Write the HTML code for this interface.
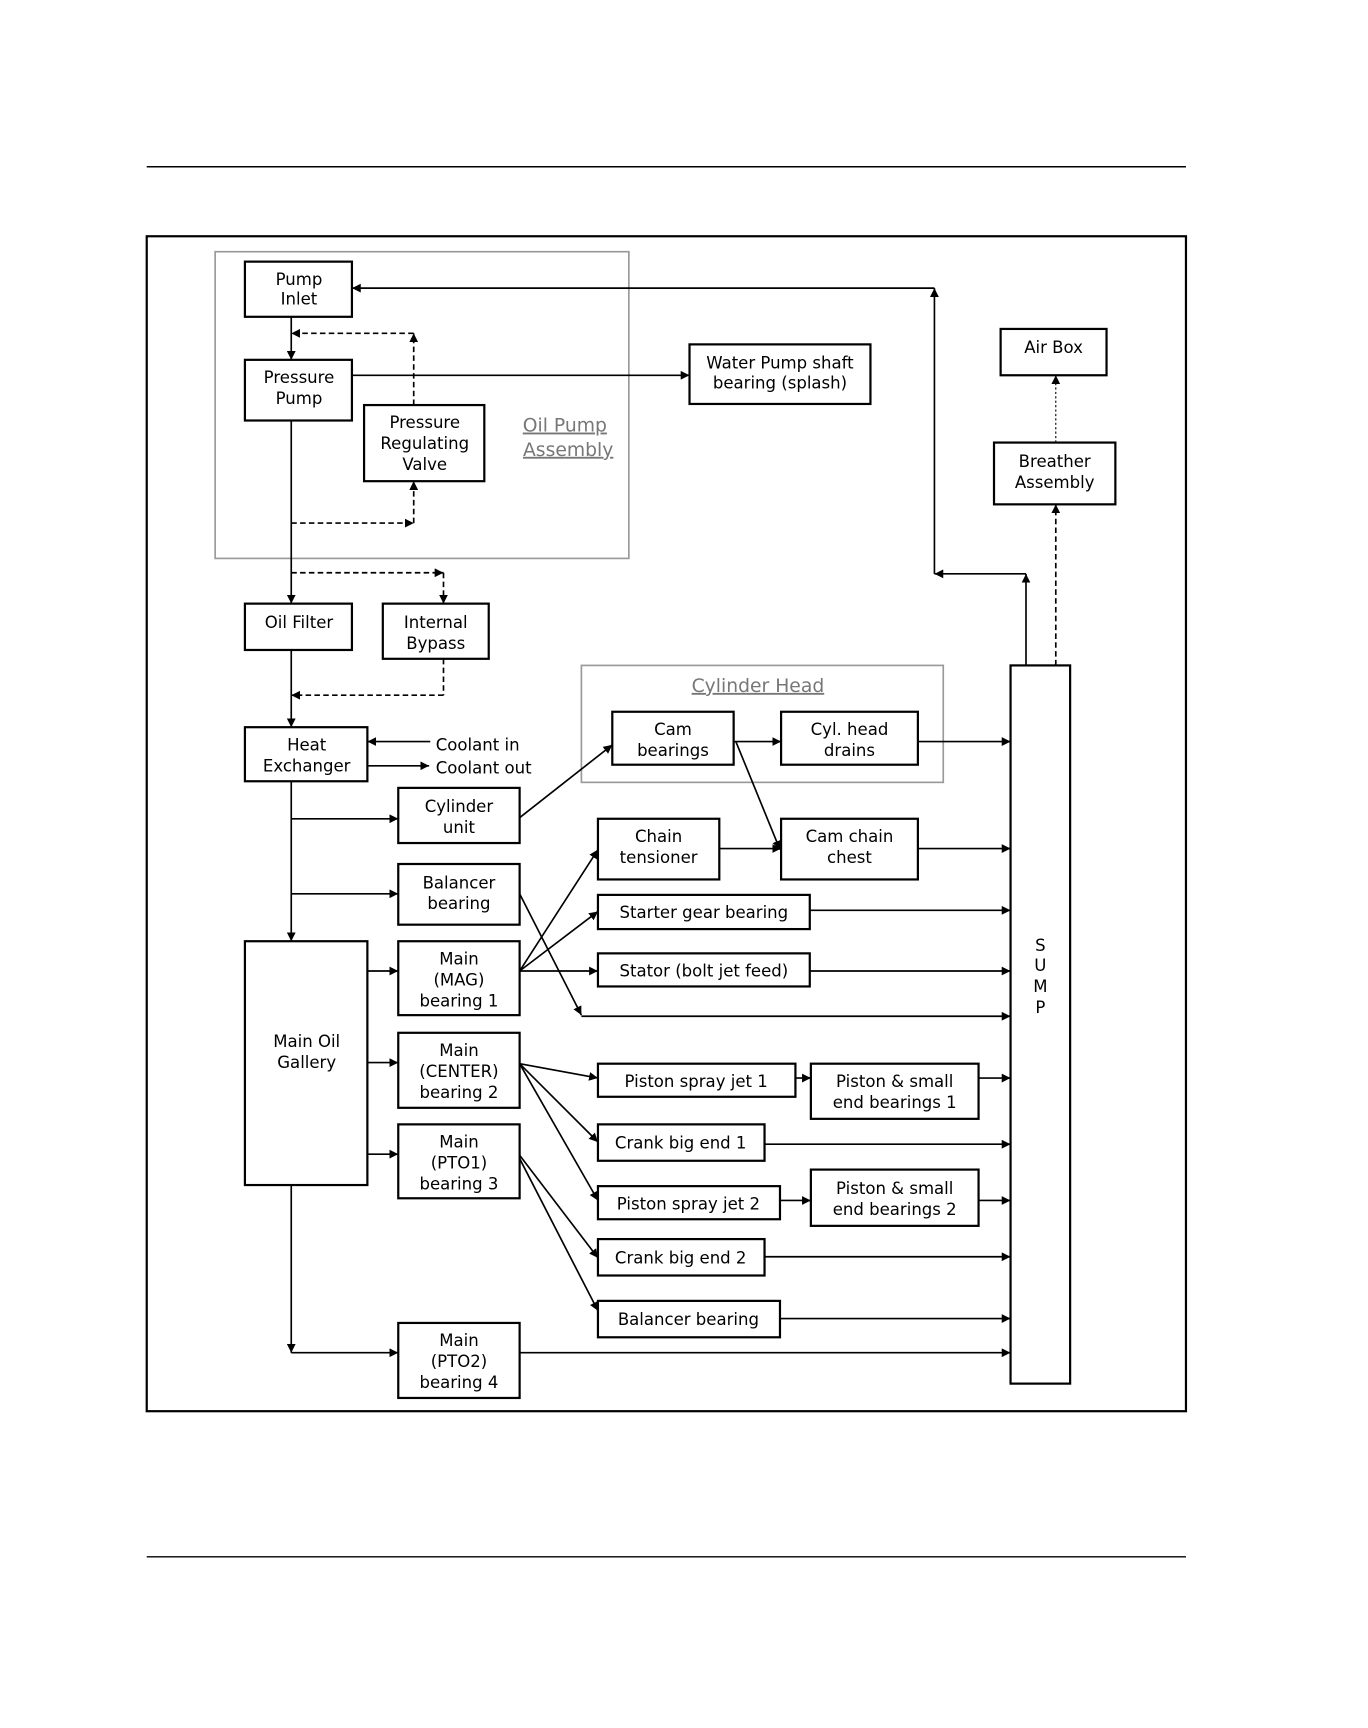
<!DOCTYPE html>
<html><head><meta charset="utf-8"><style>
html,body{margin:0;padding:0;background:#fff}
svg{display:block}
text{font-family:"DejaVu Sans","Liberation Sans",sans-serif;font-size:15px;fill:#000;text-anchor:middle}
.g{fill:#777}
</style></head><body>
<svg width="1368" height="1728" viewBox="0 0 1240 1566" xmlns="http://www.w3.org/2000/svg">
<defs>
<marker id="a" viewBox="0 0 10 10" refX="10" refY="5" markerWidth="8" markerHeight="8" markerUnits="userSpaceOnUse" orient="auto"><path d="M0,0L10,5L0,10z" fill="#000"/></marker>
</defs>
<g stroke="#000" stroke-width="1.3">
<line x1="133" y1="151" x2="1075" y2="151"/>
<line x1="133" y1="1411" x2="1075" y2="1411"/>
</g>
<rect x="133" y="214" width="942" height="1065" fill="none" stroke="#000" stroke-width="2"/>
<rect x="195" y="228" width="375" height="278" fill="none" stroke="#999" stroke-width="1.5"/>
<rect x="527" y="603" width="328" height="106" fill="none" stroke="#999" stroke-width="1.5"/>
<g fill="#fff" stroke="#000" stroke-width="2">
<rect x="222" y="237" width="97" height="50"/>
<rect x="222" y="326" width="97" height="55"/>
<rect x="330" y="367" width="109" height="69"/>
<rect x="625" y="312" width="164" height="54"/>
<rect x="907" y="298" width="96" height="42"/>
<rect x="901" y="401" width="110" height="56"/>
<rect x="222" y="547" width="97" height="42"/>
<rect x="347" y="547" width="96" height="50"/>
<rect x="555" y="645" width="110" height="48"/>
<rect x="708" y="645" width="124" height="48"/>
<rect x="222" y="659" width="111" height="49"/>
<rect x="361" y="714" width="110" height="50"/>
<rect x="542" y="742" width="110" height="55"/>
<rect x="708" y="742" width="124" height="55"/>
<rect x="361" y="783" width="110" height="55"/>
<rect x="542" y="811" width="192" height="31"/>
<rect x="361" y="853" width="110" height="67"/>
<rect x="542" y="864" width="192" height="30"/>
<rect x="222" y="853" width="111" height="221"/>
<rect x="916" y="603" width="54" height="651"/>
<rect x="361" y="936" width="110" height="68"/>
<rect x="542" y="964" width="179" height="30"/>
<rect x="735" y="964" width="152" height="50"/>
<rect x="542" y="1019" width="151" height="33"/>
<rect x="361" y="1019" width="110" height="67"/>
<rect x="542" y="1075" width="165" height="30"/>
<rect x="735" y="1060" width="152" height="51"/>
<rect x="542" y="1123" width="151" height="33"/>
<rect x="542" y="1179" width="165" height="33"/>
<rect x="361" y="1199" width="110" height="68"/>
</g>
<g stroke="#000" stroke-width="1.5" fill="none" marker-end="url(#a)">
<path d="M930,603V520"/>
<path d="M930,520H847"/>
<path d="M847,520V261"/>
<path d="M847,261H319"/>
<path d="M264,287V326"/>
<path d="M319,340H625"/>
<path d="M264,381V547"/>
<path d="M264,589V659"/>
<path d="M390,672H333"/>
<path d="M333,694H389"/>
<path d="M264,708V853"/>
<path d="M264,742H361"/>
<path d="M264,810H361"/>
<path d="M333,880H361"/>
<path d="M333,963H361"/>
<path d="M333,1046H361"/>
<path d="M264,1074V1226"/>
<path d="M264,1226H361"/>
<path d="M471,1226H916"/>
<path d="M471,741L555,675"/>
<path d="M665,672H708"/>
<path d="M667,672L707,770"/>
<path d="M832,672H916"/>
<path d="M652,769H708"/>
<path d="M832,769H916"/>
<path d="M734,825H916"/>
<path d="M734,880H916"/>
<path d="M471,880L542,770"/>
<path d="M471,880L542,826"/>
<path d="M471,880H542"/>
<path d="M471,810L527,920"/>
<path d="M527,921H916"/>
<path d="M471,964L542,977"/>
<path d="M471,964L542,1035"/>
<path d="M471,964L542,1088"/>
<path d="M721,977H735"/>
<path d="M887,977H916"/>
<path d="M693,1037H916"/>
<path d="M707,1088H735"/>
<path d="M887,1088H916"/>
<path d="M471,1047L542,1140"/>
<path d="M471,1050L542,1188"/>
<path d="M693,1139H916"/>
<path d="M707,1195H916"/>
</g>
<g stroke="#000" stroke-width="1.5" fill="none" stroke-dasharray="5,3">
<path d="M375,367V302" marker-end="url(#a)"/>
<path d="M375,302H264" marker-end="url(#a)"/>
<path d="M264,474H375" marker-end="url(#a)"/>
<path d="M375,474V436" marker-end="url(#a)"/>
<path d="M264,519H402" marker-end="url(#a)"/>
<path d="M402,519V547" marker-end="url(#a)"/>
<path d="M402,597V630" />
<path d="M402,630H264" marker-end="url(#a)"/>
<path d="M957,603V457" marker-end="url(#a)"/>
<path d="M957,401V340" stroke-dasharray="2,2" stroke-width="1" marker-end="url(#a)"/>
</g>
<text x="271" y="258">Pump</text><text x="271" y="276">Inlet</text>
<text x="271" y="347">Pressure</text><text x="271" y="366">Pump</text>
<text x="385" y="388">Pressure</text><text x="385" y="407">Regulating</text><text x="385" y="426">Valve</text>
<text x="707" y="334">Water Pump shaft</text><text x="707" y="352">bearing (splash)</text>
<text class="g" x="512" y="391" style="font-size:17px;text-decoration:underline">Oil Pump</text>
<text class="g" x="515" y="413" style="font-size:17px;text-decoration:underline">Assembly</text>
<text x="955" y="320">Air Box</text>
<text x="956" y="423">Breather</text><text x="956" y="442">Assembly</text>
<text x="271" y="569">Oil Filter</text>
<text x="395" y="569">Internal</text><text x="395" y="588">Bypass</text>
<text class="g" x="687" y="627" style="font-size:17px;text-decoration:underline">Cylinder Head</text>
<text x="610" y="666">Cam</text><text x="610" y="685">bearings</text>
<text x="770" y="666">Cyl. head</text><text x="770" y="685">drains</text>
<text x="278" y="680">Heat</text><text x="278" y="699">Exchanger</text>
<text x="395" y="680" style="text-anchor:start">Coolant in</text>
<text x="395" y="701" style="text-anchor:start">Coolant out</text>
<text x="416" y="736">Cylinder</text><text x="416" y="755">unit</text>
<text x="597" y="763">Chain</text><text x="597" y="782">tensioner</text>
<text x="770" y="763">Cam chain</text><text x="770" y="782">chest</text>
<text x="416" y="805">Balancer</text><text x="416" y="824">bearing</text>
<text x="638" y="832">Starter gear bearing</text>
<text x="416" y="874">Main</text><text x="416" y="893">(MAG)</text><text x="416" y="912">bearing 1</text>
<text x="638" y="885">Stator (bolt jet feed)</text>
<text x="278" y="949">Main Oil</text><text x="278" y="968">Gallery</text>
<text x="943" y="862">S</text><text x="943" y="880">U</text><text x="943" y="899">M</text><text x="943" y="918">P</text>
<text x="416" y="957">Main</text><text x="416" y="976">(CENTER)</text><text x="416" y="995">bearing 2</text>
<text x="631" y="985">Piston spray jet 1</text>
<text x="811" y="985">Piston &amp; small</text><text x="811" y="1004">end bearings 1</text>
<text x="617" y="1041">Crank big end 1</text>
<text x="416" y="1040">Main</text><text x="416" y="1059">(PTO1)</text><text x="416" y="1078">bearing 3</text>
<text x="624" y="1096">Piston spray jet 2</text>
<text x="811" y="1082">Piston &amp; small</text><text x="811" y="1101">end bearings 2</text>
<text x="617" y="1145">Crank big end 2</text>
<text x="624" y="1201">Balancer bearing</text>
<text x="416" y="1220">Main</text><text x="416" y="1239">(PTO2)</text><text x="416" y="1258">bearing 4</text>
</svg>
</body></html>
